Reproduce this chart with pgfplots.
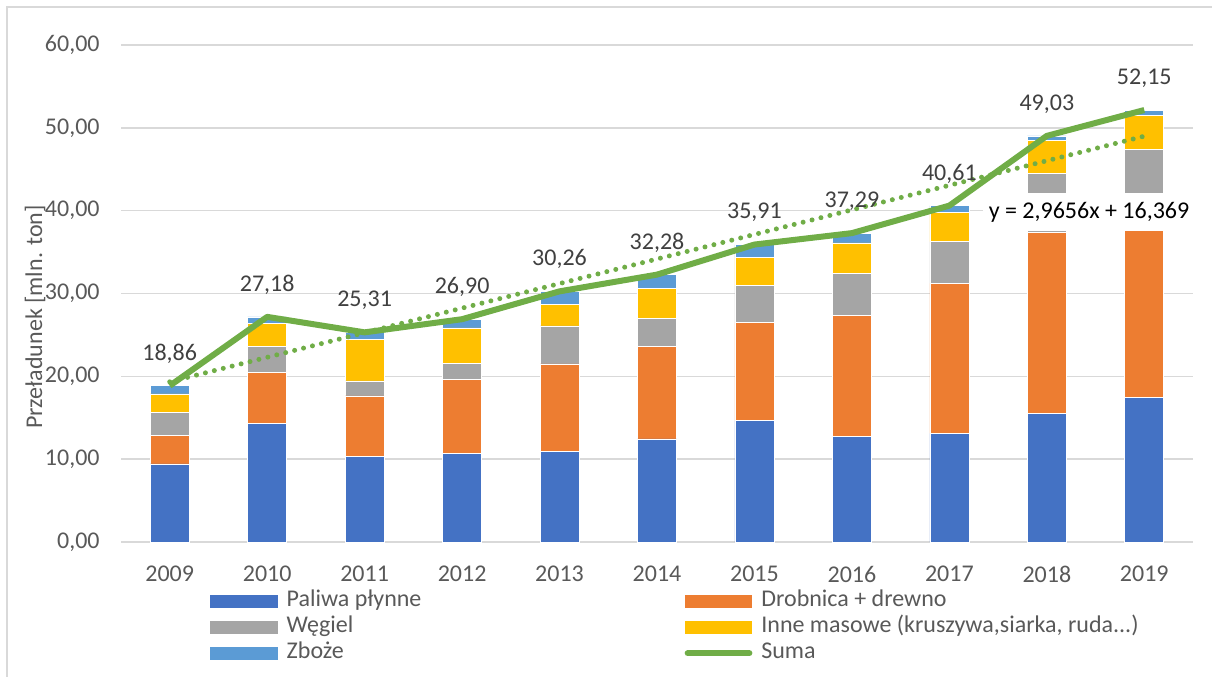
\documentclass[border=0pt]{standalone}
\usepackage{fontspec}
\setmainfont{Carlito}
\usepackage{pgfplots}
\pgfplotsset{compat=1.18}
\usepackage{pgfplotstable}
\definecolor{cBlue}{HTML}{4472C4}
\definecolor{cOrange}{HTML}{ED7D31}
\definecolor{cGray}{HTML}{A5A5A5}
\definecolor{cYellow}{HTML}{FFC000}
\definecolor{cLBlue}{HTML}{5B9BD5}
\definecolor{cGreen}{HTML}{70AD47}
\definecolor{gridc}{HTML}{D9D9D9}
\definecolor{txt}{HTML}{595959}
\definecolor{lbl}{HTML}{404040}
\newcommand{\fs}{\fontsize{12bp}{14.4bp}\selectfont}
\pgfplotsset{swatch/.style={legend image code/.code={\fill[##1,draw=none] (0bp,-3.325bp) rectangle (33.85bp,3.325bp);}}}

\pgfplotstableread{
x blue orange gray yellow lblue suma
0 9.42 3.46 2.73 2.26 0.99 18.86
1 14.33 6.11 3.22 2.74 0.78 27.18
2 10.30 7.33 1.81 5.03 0.84 25.31
3 10.71 8.89 1.93 4.31 1.06 26.90
4 10.95 10.54 4.59 2.65 1.53 30.26
5 12.44 11.18 3.35 3.66 1.65 32.28
6 14.65 11.83 4.47 3.42 1.54 35.91
7 12.72 14.61 5.07 3.70 1.19 37.29
8 13.12 18.11 5.03 3.54 0.81 40.61
9 15.49 21.86 7.16 3.94 0.58 49.03
10 17.47 21.00 8.94 4.11 0.63 52.15
}\data

\begin{document}
\begin{tikzpicture}
\useasboundingbox (0,0) rectangle (606bp,338.5bp);
\draw[gridc, line width=0.75bp] (3.5bp,-20bp) rectangle (640bp,335bp);
\begin{axis}[
  at={(60.5bp,67.5bp)}, anchor=south west, scale only axis,
  width=536bp, height=248.5bp,
  xmin=-0.5, xmax=10.5, ymin=0, ymax=60,
  ybar stacked, bar width=19.5bp,
  clip=false,
  axis line style={draw=none},
  major tick length=0pt, tick style={draw=none},
  ymajorgrids, grid style={gridc, line width=0.75bp},
  xtick={0,...,10},
  xticklabels={2009,2010,2011,2012,2013,2014,2015,2016,2017,2018,2019},
  ytick={0,10,...,60},
  /pgf/number format/use comma,
  /pgf/number format/fixed,
  /pgf/number format/fixed zerofill,
  /pgf/number format/precision=2,
  /pgf/number format/assume math mode=true,
  tick label style={font=\fs, text=txt},
  xticklabel style={anchor=center, yshift=-16bp},
  yticklabel style={anchor=east, inner sep=0pt, xshift=-10.5bp},
  ylabel={Przeładunek [mln. ton]},
  ylabel style={font=\fs, text=txt, at={(axis description cs:-0.0802,0.4527)}, anchor=center},
]
\addplot[fill=cBlue, draw=white, line width=0.3bp] table[x=x,y=blue]{\data};
\addplot[fill=cOrange, draw=white, line width=0.3bp] table[x=x,y=orange]{\data};
\addplot[fill=cGray, draw=white, line width=0.3bp] table[x=x,y=gray]{\data};
\addplot[fill=cYellow, draw=white, line width=0.3bp] table[x=x,y=yellow]{\data};
\addplot[fill=cLBlue, draw=white, line width=0.3bp] table[x=x,y=lblue]{\data};
\end{axis}
\begin{axis}[
  at={(60.5bp,67.5bp)}, anchor=south west, scale only axis,
  width=536bp, height=248.5bp,
  xmin=-0.5, xmax=10.5, ymin=0, ymax=60,
  axis lines=none, clip=false,
  /pgf/number format/use comma,
  /pgf/number format/fixed,
  /pgf/number format/fixed zerofill,
  /pgf/number format/precision=2,
  /pgf/number format/assume math mode=true,
  legend columns=2,
  legend cell align=left,
  legend style={at={(axis description cs:0.0830,-0.098)}, anchor=north west,
    draw=none, fill=none, inner sep=0pt, outer sep=0pt,
    column sep=0pt, row sep=2.5bp,
    /tikz/every odd column/.append style={column sep=4.5bp},
    nodes={inner sep=0pt, text height=8bp, text depth=2.5bp, font=\fs, text=txt}},
]
\node[fill=white, inner sep=0pt, minimum width=106bp, minimum height=19bp, font=\fs, text=black] at (axis cs:9.433,39.86) {y = 2,9656x + 16,369};
\addlegendimage{swatch, fill=cBlue}
\addlegendentry{\makebox[199bp][l]{Paliwa płynne}}
\addlegendimage{swatch, fill=cOrange}
\addlegendentry{Drobnica + drewno}
\addlegendimage{swatch, fill=cGray}
\addlegendentry{\makebox[199bp][l]{Węgiel}}
\addlegendimage{swatch, fill=cYellow}
\addlegendentry{Inne masowe (kruszywa,siarka, ruda...)}
\addlegendimage{swatch, fill=cLBlue}
\addlegendentry{\makebox[199bp][l]{Zboże}}
\addplot[cGreen, line width=3bp, line join=round,
  legend image code/.code={\draw[cGreen, line width=3bp, line cap=round] (1.5bp,0bp) -- (32.35bp,0bp);},
  nodes near coords,
  every node near coord/.append style={font=\fs, text=lbl, anchor=center, yshift=16bp}]
  table[x=x,y=suma]{\data};
\addlegendentry{Suma}
\addplot[cGreen, line width=2.5bp, line cap=round, dash pattern=on 0pt off 4.6bp, forget plot]
  coordinates {(0,19.335) (10,48.991)};
\end{axis}
\end{tikzpicture}
\end{document}
